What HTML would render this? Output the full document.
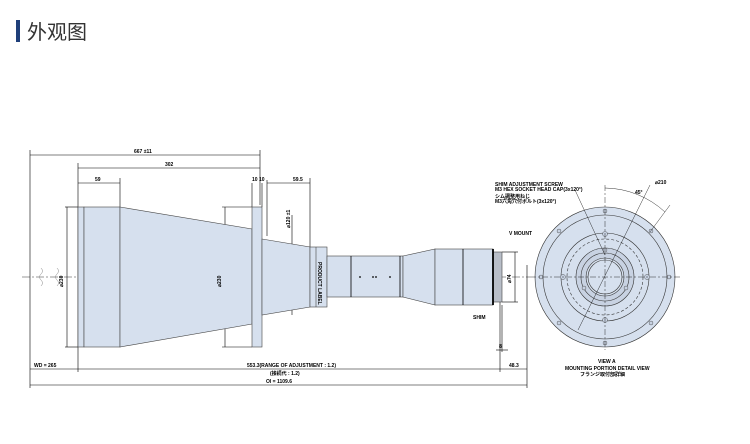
<!DOCTYPE html>
<html><head><meta charset="utf-8"><style>
html,body{margin:0;padding:0;background:#fff;width:750px;height:444px;overflow:hidden}
.h{position:absolute;left:27px;top:16px;font:20px "Liberation Sans","Noto Sans CJK SC",sans-serif;color:#333}
.bar{position:absolute;left:16px;top:20px;width:4px;height:22px;background:#1f3f7a}
svg{position:absolute;left:0;top:0}
text{font-family:"Liberation Sans","Noto Sans CJK JP",sans-serif;font-weight:bold;fill:#000}
</style></head><body>
<div class="bar"></div><div class="h">外观图</div>
<svg width="750" height="444" viewBox="0 0 750 444">
<g stroke="#000" stroke-width="0.6" fill="none">
<!-- center line -->
<line x1="22" y1="277" x2="530" y2="277" stroke-dasharray="8,2,2,2" stroke-width="0.4"/>
<!-- dimension lines -->
<line x1="30" y1="150" x2="30" y2="388"/>
<line x1="30" y1="155" x2="260" y2="155"/>
<line x1="260" y1="150" x2="260" y2="205"/>
<line x1="78" y1="168" x2="260" y2="168"/>
<line x1="78" y1="163" x2="78" y2="372"/>
<line x1="78" y1="183" x2="120" y2="183"/>
<line x1="120" y1="178" x2="120" y2="207"/>
<line x1="252" y1="183" x2="252" y2="207"/>
<line x1="262" y1="183" x2="262" y2="207"/>
<line x1="267" y1="183" x2="310" y2="183"/>
<line x1="267" y1="180" x2="267" y2="236"/>
<line x1="310" y1="178" x2="310" y2="247"/>
<line x1="65" y1="207" x2="78" y2="207"/><line x1="65" y1="347" x2="78" y2="347"/>
<line x1="67" y1="207" x2="67" y2="347"/>
<line x1="222" y1="207" x2="252" y2="207"/><line x1="222" y1="347" x2="252" y2="347"/>
<line x1="225" y1="207" x2="225" y2="347"/>
<line x1="292" y1="215" x2="292" y2="315"/>
<line x1="502" y1="252" x2="518" y2="252"/><line x1="502" y1="302" x2="518" y2="302"/>
<line x1="515" y1="252" x2="515" y2="302"/>
<line x1="500" y1="302" x2="500" y2="372"/>
<line x1="502" y1="305" x2="502" y2="352"/>
<line x1="496" y1="350" x2="508" y2="350"/>
<line x1="527" y1="265" x2="527" y2="388"/>
<line x1="30" y1="369" x2="527" y2="369"/>
<line x1="30" y1="385" x2="527" y2="385"/>
</g>
<!-- wavy marks -->
<g stroke="#888" stroke-width="0.5" fill="none">
<path d="M41 268 q3 3 0 6 q-3 3 0 6 q3 3 0 6"/><path d="M57 268 q3 3 0 6 q-3 3 0 6 q3 3 0 6"/>
</g>
<!-- lens body -->
<g stroke="#444" stroke-width="0.6" fill="#d6e0ee">
<rect x="78" y="207" width="6" height="140"/>
<rect x="84" y="207" width="36" height="140"/>
<polygon points="120,207 252,229 252,324 120,347"/>
<rect x="252" y="207" width="10" height="140"/>
<polygon points="262,239 310,247 310,307 262,315"/>
<rect x="310" y="247" width="17" height="60"/>
<line x1="316" y1="247" x2="316" y2="307"/>
<rect x="327" y="256" width="76" height="41"/>
<polygon points="403,256 435,249 435,305 403,297"/>
<rect x="435" y="249" width="58" height="56"/>
<rect x="493" y="252" width="9" height="50" fill="#b8bec8"/>
</g>
<g stroke="#000" stroke-width="0.8">
<line x1="351" y1="256" x2="351" y2="297"/><line x1="400" y1="256" x2="400" y2="297"/>
<line x1="463" y1="249" x2="463" y2="305"/>
<line x1="493" y1="249" x2="493" y2="305" stroke-width="1.8"/>
</g>
<g fill="#000"><circle cx="360" cy="277" r="0.9"/><circle cx="373" cy="277" r="0.9"/><circle cx="376" cy="277" r="0.9"/><circle cx="390" cy="277" r="0.9"/></g>
<!-- right view -->
<g stroke="#333" stroke-width="0.6" fill="#d6e0ee">
<circle cx="605" cy="277" r="70"/>
<circle cx="605" cy="277" r="62" fill="none"/>
<circle cx="605" cy="277" r="44" fill="none"/>
<circle cx="605" cy="277" r="29" fill="#c8d2e2"/>
<circle cx="605" cy="277" r="24" fill="none"/>
<circle cx="605" cy="277" r="19" fill="#d6e0ee"/>
<circle cx="605" cy="277" r="17" fill="none"/>
<circle cx="605" cy="277" r="38" fill="none" stroke-dasharray="3,2"/>
</g>
<g stroke="#333" stroke-width="0.4" fill="#c8d2e2">
<circle cx="605" cy="234" r="2.5"/><circle cx="605" cy="320" r="2.5"/><circle cx="563" cy="277" r="2.5"/><circle cx="647" cy="277" r="2.5"/>
<circle cx="559" cy="231" r="2"/><circle cx="651" cy="231" r="2"/><circle cx="559" cy="323" r="2"/><circle cx="651" cy="323" r="2"/>
<circle cx="605" cy="211" r="2"/><circle cx="605" cy="343" r="2"/><circle cx="541" cy="277" r="2"/><circle cx="669" cy="277" r="2"/>
<circle cx="605" cy="250" r="2"/><circle cx="626" cy="288" r="2"/><circle cx="584" cy="288" r="2"/>
</g>
<g stroke="#000" stroke-width="0.4" fill="none">
<line x1="530" y1="277" x2="680" y2="277" stroke-dasharray="6,2,2,2"/>
<line x1="605" y1="185" x2="605" y2="350" stroke-dasharray="6,2,2,2"/>
<line x1="578" y1="330" x2="650" y2="185"/>
<path d="M605 188 A90 90 0 0 1 665 212"/>
<line x1="650" y1="232" x2="670" y2="205"/>
<line x1="575" y1="190" x2="605" y2="255"/>
</g>
<!-- texts -->
<g font-size="5">
<text x="134" y="153">667 ±11</text>
<text x="165" y="166">302</text>
<text x="95" y="181">59</text>
<text x="252" y="181">10 10</text>
<text x="293" y="181">59.5</text>
<text x="34" y="367">WD = 265</text>
<text x="247" y="367">553.3(RANGE OF ADJUSTMENT : 1.2)</text>
<text x="270" y="375">(接続代 : 1.2)</text>
<text x="266" y="383">OI = 1109.6</text>
<text x="509" y="367">48.3</text>
<text x="499" y="348">8</text>
<text x="509" y="235">V MOUNT</text>
<text x="473" y="319">SHIM</text>
<text x="495" y="186">SHIM ADJUSTMENT SCREW</text>
<text x="495" y="191">M3 HEX SOCKET HEAD CAP(3x120°)</text>
<text x="495" y="198">シム調整用ねじ</text>
<text x="495" y="203">M3六角穴付ボルト(3x120°)</text>
<text x="655" y="184">⌀210</text>
<text x="635" y="194">45°</text>
<text x="598" y="363">VIEW A</text>
<text x="565" y="370">MOUNTING PORTION DETAIL VIEW</text>
<text x="580" y="376">フランジ取付部詳細</text>
<text transform="translate(63,287) rotate(-90)">⌀230</text>
<text transform="translate(221,287) rotate(-90)">⌀230</text>
<text transform="translate(290,228) rotate(-90)">⌀120 ±1</text>
<text transform="translate(511,283) rotate(-90)">⌀74</text>
<text transform="translate(318,262) rotate(90)">PRODUCT LABEL</text>
</g>
</svg>
</body></html>
